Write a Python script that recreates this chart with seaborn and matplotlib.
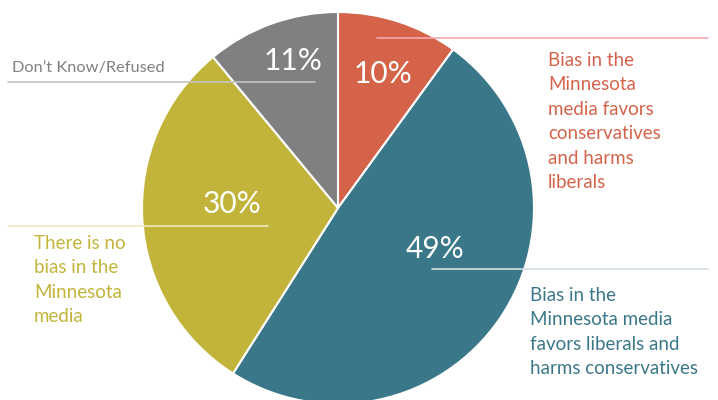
import matplotlib
matplotlib.use("Agg")
import matplotlib.pyplot as plt
from matplotlib.lines import Line2D
import seaborn as sns

categories = [
    "Bias in the\nMinnesota\nmedia favors\nconservatives\nand harms\nliberals",
    "Bias in the\nMinnesota media\nfavors liberals and\nharms conservatives",
    "There is no\nbias in the\nMinnesota\nmedia",
    "Don\u2019t Know/Refused",
]
values = [10, 49, 30, 11]
pct_labels = ["10%", "49%", "30%", "11%"]
colors = ["#D5634A", "#3A7789", "#C2B43A", "#808080"]
label_colors = ["#D5634A", "#3A7789", "#C2B43A", "#808080"]
line_colors = ["#F2A9B0", "#D3DFE3", "#EFE7BF", "#C4C4C4"]

sns.set_theme(style="white")
plt.rcParams["font.family"] = ["Lato", "DejaVu Sans"]

W, H = 718, 400
fig = plt.figure(figsize=(W / 100, H / 100), dpi=100)
cx, cy, R = 338, 208, 196
ax = fig.add_axes([(cx - R) / W, 1 - (cy + R) / H, 2 * R / W, 2 * R / H])
ax.pie(values, colors=colors, startangle=90, counterclock=False, radius=1,
       wedgeprops=dict(edgecolor="white", linewidth=1.5))
ax.set_xlim(-1, 1)
ax.set_ylim(-1, 1)
ax.set_aspect("equal")
ax.axis("off")

def px(x, y):
    return x / W, 1 - y / H

# percentage labels (pixel centres)
pct_pos = [(383, 74), (435, 249), (232, 204), (293, 61)]
for (x, y), t in zip(pct_pos, pct_labels):
    fig.text(*px(x, y), t, color="white", fontsize=21.5, ha="center", va="center")

# leader lines (pixel endpoints)
leader = [((377, 38), (708, 38)), ((432, 269), (708, 269)),
          ((8, 226), (268, 226)), ((8, 82), (315, 82))]
for ((x0, y0), (x1, y1)), c in zip(leader, line_colors):
    fig.add_artist(Line2D([x0 / W, x1 / W], [1 - y0 / H, 1 - y1 / H],
                          transform=fig.transFigure, color=c, linewidth=1.2))

# category labels
lab_pos = [(548, 52), (530, 287), (34, 235), (12, 61)]
sizes = [13.5, 13.5, 13.5, 11.8]
for (x, y), t, c, s in zip(lab_pos, categories, label_colors, sizes):
    fig.text(*px(x, y), t, color=c, fontsize=s, ha="left", va="top", linespacing=1.53)

fig.savefig("out.png", dpi=100)
